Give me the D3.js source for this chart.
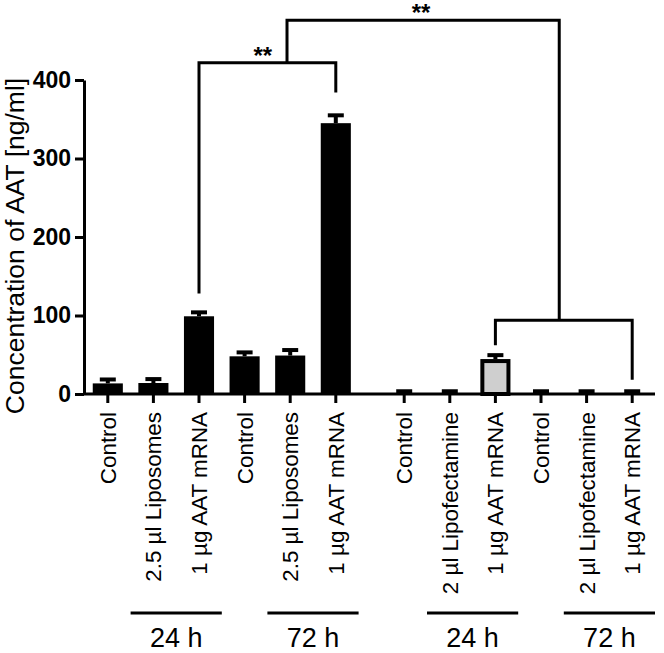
<!DOCTYPE html>
<html><head><meta charset="utf-8">
<script src="https://cdn.jsdelivr.net/npm/d3@7/dist/d3.min.js"></script>
<style>body{margin:0;background:#fff}svg{display:block}text{font-family:"Liberation Sans",Arial,sans-serif;fill:#000}</style>
</head><body><svg id="c" width="664" height="653"></svg>
<script>
const categories = ["Control","2.5 µl Liposomes","1 µg AAT mRNA","Control","2.5 µl Liposomes","1 µg AAT mRNA",
  "Control","2 µl Lipofectamine","1 µg AAT mRNA","Control","2 µl Lipofectamine","1 µg AAT mRNA"];
const slots = [0,1,2,3,4,5,6.5,7.5,8.5,9.5,10.5,11.5];
const values = [13.5,14,99,48,49,345,1,1,44.5,1,1,1];
const errors = [5,5,5,5,7,10,2.5,2.5,5,2.5,2.5,2.5];
const highlighted = [false,false,false,false,false,false,false,false,true,false,false,false];
const yTicks = [0,100,200,300,400];
const timeLabels = ["24 h","72 h","24 h","72 h"];
const timeCenters = [1.5,4.5,8,11];
// brackets: [xLeft, xRight, yTop, yLeftEnd, yRightEnd] in data units
const brackets = [[2,5,422,128,384],[8.5,11.5,94,62,18]];
const bridge = {xFrom:3.93, xTo:9.9, yFrom:422, yTop:476, yTo:94};
const stars = [{x:3.4,y:422,label:"**"},{x:6.87,y:476,label:"**"}];

const svg = d3.select("#c");
const x = d3.scaleLinear().domain([-0.5,12]).range([85,655]);
const y = d3.scaleLinear().domain([0,400]).range([394,80]);
const slotW = x(1)-x(0);
const barW = slotW*0.66;

// bars
svg.selectAll("rect.bar").data(values).join("rect")
  .attr("class","bar")
  .attr("x",(d,i)=>x(slots[i])-barW/2 + (highlighted[i]?2:0))
  .attr("width",(d,i)=>barW-(highlighted[i]?4:0))
  .attr("y",(d,i)=>y(d)+(highlighted[i]?2:0))
  .attr("height",(d,i)=>Math.max(0,y(0)-y(d)-(highlighted[i]?2:0)))
  .attr("fill",(d,i)=>highlighted[i]?"#cfcfcf":"#000")
  .attr("stroke",(d,i)=>highlighted[i]?"#000":"none")
  .attr("stroke-width",4);

// error bars
const eb = svg.append("g").attr("stroke","#000").attr("stroke-width",4);
values.forEach((v,i)=>{
  eb.append("line").attr("x1",x(slots[i])).attr("x2",x(slots[i])).attr("y1",y(v)).attr("y2",y(v+errors[i]));
  eb.append("line").attr("x1",x(slots[i])-8).attr("x2",x(slots[i])+8).attr("y1",y(v+errors[i])).attr("y2",y(v+errors[i]));
});

// y axis
const ya = svg.append("g").attr("transform","translate(84,0)")
  .call(d3.axisLeft(y).tickValues(yTicks).tickSize(9).tickSizeOuter(0).tickPadding(4));
ya.select(".domain").attr("stroke-width",3);
ya.selectAll(".tick line").attr("stroke-width",3);
ya.selectAll(".tick text").attr("font-size",23).attr("font-weight","bold").attr("font-family","'Liberation Sans',Arial,sans-serif");

// x axis
svg.append("line").attr("x1",x(-0.5)-1.5).attr("x2",x(12)).attr("y1",y(0)).attr("y2",y(0)).attr("stroke","#000").attr("stroke-width",3);
const xt = svg.append("g");
slots.forEach((s,i)=>{
  xt.append("line").attr("x1",x(s)).attr("x2",x(s)).attr("y1",y(0)).attr("y2",y(0)+9).attr("stroke","#000").attr("stroke-width",3);
  xt.append("text").attr("transform",`translate(${x(s)+8},412) rotate(-90)`)
    .attr("text-anchor","end").attr("font-size",22.4).text(categories[i]);
});

// y label
svg.append("text").attr("transform","translate(24,246) rotate(-90)").attr("text-anchor","middle")
  .attr("font-size",26.5).text("Concentration of AAT [ng/ml]");

// time groups
timeCenters.forEach((c,i)=>{
  svg.append("line").attr("x1",x(c-1)).attr("x2",x(c+1)).attr("y1",613).attr("y2",613).attr("stroke","#000").attr("stroke-width",3);
  svg.append("text").attr("x",x(c)).attr("y",647).attr("text-anchor","middle").attr("font-size",27).text(timeLabels[i]);
});

// significance brackets
const br = svg.append("g").attr("fill","none").attr("stroke","#000").attr("stroke-width",3);
brackets.forEach(b=>{
  br.append("path").attr("d",`M${x(b[0])},${y(b[3])}V${y(b[2])}H${x(b[1])}V${y(b[4])}`);
});
br.append("path").attr("d",`M${x(bridge.xFrom)},${y(bridge.yFrom)}V${y(bridge.yTop)}H${x(bridge.xTo)}V${y(bridge.yTo)}`);
stars.forEach(s=>{
  svg.append("text").attr("x",x(s.x)).attr("y",y(s.y)+1).attr("text-anchor","middle")
    .attr("font-size",24).attr("font-weight","bold").text(s.label);
});
</script></body></html>
